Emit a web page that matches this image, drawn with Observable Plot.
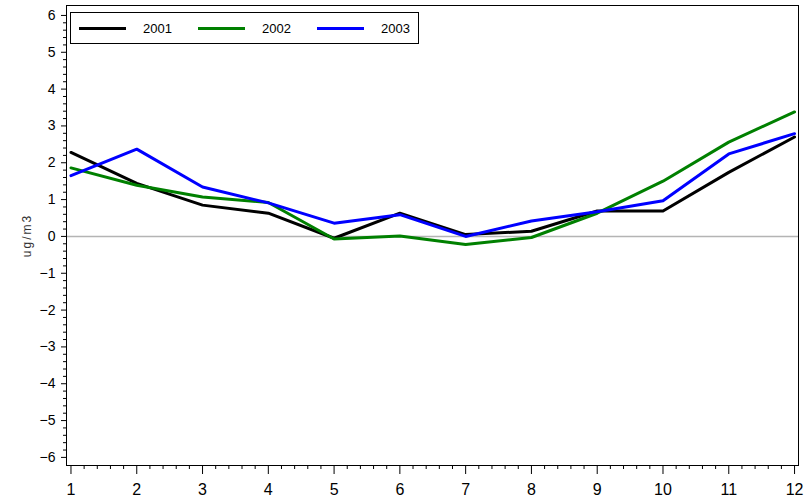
<!DOCTYPE html>
<html>
<head>
<meta charset="utf-8">
<script src="https://cdn.jsdelivr.net/npm/d3@7"></script>
<script src="https://cdn.jsdelivr.net/npm/@observablehq/plot@0.6"></script>
<style>
  html, body { margin: 0; padding: 0; background: #fff; }
  #chart { position: relative; width: 812px; height: 497px; }
  #chart svg { display: block; }
  .legend {
    position: absolute; left: 70px; top: 12px; width: 347px; height: 30px;
    border: 1px solid #000; background: #fff; box-sizing: content-box;
    font: 13px "Liberation Sans", Arial, sans-serif; color: #000;
  }
  .legend .item { position: absolute; top: 0; height: 30px; display: flex; align-items: center; }
  .legend .swatch { width: 47px; height: 3px; margin-right: 17px; }
</style>
</head>
<body>
<div id="chart"></div>
<script>
// Monthly values (ug/m3) per year
const months = [1, 2, 3, 4, 5, 6, 7, 8, 9, 10, 11, 12];
const years = ["2001", "2002", "2003"];
const values2001 = [2.28, 1.44, 0.85, 0.63, -0.05, 0.63, 0.05, 0.14, 0.69, 0.69, 1.74, 2.70];
const values2002 = [1.86, 1.39, 1.07, 0.92, -0.07, 0.01, -0.22, -0.03, 0.63, 1.50, 2.56, 3.38];
const values2003 = [1.65, 2.37, 1.34, 0.91, 0.36, 0.59, 0.00, 0.42, 0.67, 0.97, 2.24, 2.79];
const colors = ["#000000", "#008000", "#0000ff"];
const yTicks = [-6, -5, -4, -3, -2, -1, 0, 1, 2, 3, 4, 5, 6];

const series = [values2001, values2002, values2003];
const data = years.flatMap((year, i) =>
  months.map((m, j) => ({year, month: m, value: series[i][j]}))
);

const yMinor = d3.range(-60, 61, 2).map(v => v / 10).filter(v => !Number.isInteger(v));
const xMinor = d3.range(10, 121, 2).map(v => v / 10).filter(v => !Number.isInteger(v));

const tickFont = `"Liberation Sans Narrow", "Liberation Sans", sans-serif`;

const plot = Plot.plot({
  width: 812,
  height: 497,
  marginLeft: 66,
  marginRight: 14,
  marginTop: 5,
  marginBottom: 32,
  style: {fontFamily: tickFont, fontSize: "14px", background: "#fff", color: "#000"},
  x: {domain: [0.932, 12.06]},
  y: {domain: [-6.22, 6.27]},
  color: {domain: years, range: colors},
  marks: [
    Plot.ruleY([0], {stroke: "#b4b4b4", strokeWidth: 1.5}),
    Plot.line(data, {x: "month", y: "value", z: "year", stroke: "year", strokeWidth: 3}),
    Plot.frame({stroke: "#000", strokeWidth: 1}),
    // y axis: minor and major outward ticks with labels
    Plot.axisY(yMinor, {tickSize: 3, text: null, label: null}),
    Plot.axisY(yTicks, {tickSize: 5, tickPadding: 6, fontSize: 14,
      tickFormat: d => d3.format("")(d).replace("-", "\u2212"),
      label: "ug/m3", labelAnchor: "center", labelArrow: "none", labelOffset: 44}),
    // x axis: minor and major ticks with labels
    Plot.axisX(xMinor, {tickSize: 4, text: null, label: null}),
    Plot.axisX(months, {tickSize: 9, tickPadding: 9, fontSize: 16, tickFormat: d => String(d), label: null})
  ]
});

// Lighter, letter-spaced axis title
d3.select(plot).selectAll('g[aria-label="y-axis label"] text')
  .style("font-family", `"Liberation Sans", sans-serif`)
  .style("font-size", "12px")
  .style("letter-spacing", "2px")
  .style("fill", "#333");

const chart = document.getElementById("chart");
chart.appendChild(plot);

// Legend box drawn over the top-left corner of the plot frame
const legend = document.createElement("div");
legend.className = "legend";
years.forEach((year, i) => {
  const item = document.createElement("div");
  item.className = "item";
  item.style.left = (8 + i * 119) + "px";
  const sw = document.createElement("div");
  sw.className = "swatch";
  sw.style.background = colors[i];
  const label = document.createElement("span");
  label.textContent = year;
  item.appendChild(sw);
  item.appendChild(label);
  legend.appendChild(item);
});
chart.appendChild(legend);
</script>
</body>
</html>
